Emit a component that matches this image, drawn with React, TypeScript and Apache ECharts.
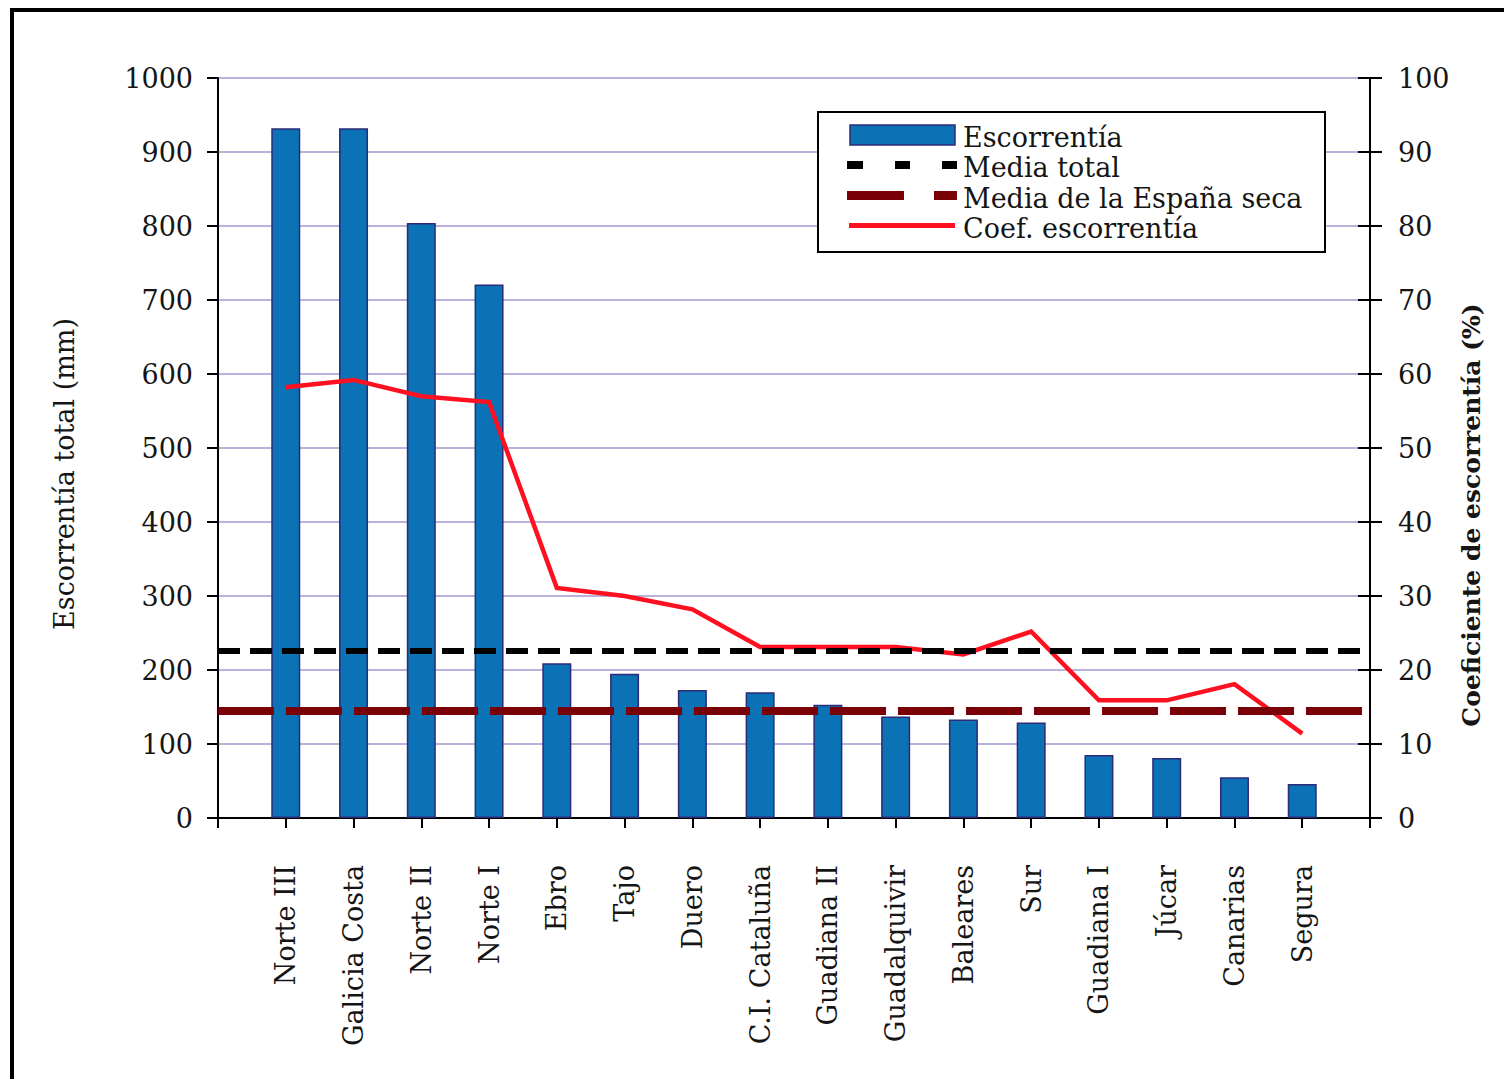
import React, { useEffect, useRef } from 'react';
import * as echarts from 'echarts';

const CATEGORIES = [
  'Norte III', 'Galicia Costa', 'Norte II', 'Norte I', 'Ebro', 'Tajo', 'Duero',
  'C.I. Cataluña', 'Guadiana II', 'Guadalquivir', 'Baleares', 'Sur',
  'Guadiana I', 'Júcar', 'Canarias', 'Segura',
];
const ESCORRENTIA = [932, 932, 804, 721, 209, 195, 173, 170, 153, 137, 133, 129, 85, 81, 55, 46];
const COEF_ESCORRENTIA = [58.2, 59.2, 57.0, 56.2, 31.1, 30.0, 28.2, 23.1, 23.1, 23.1, 22.1, 25.2, 15.9, 15.9, 18.1, 11.4];
const MEDIA_TOTAL = 226;
const MEDIA_ESPANA_SECA = 145;
const LEFT_TICKS = [0, 100, 200, 300, 400, 500, 600, 700, 800, 900, 1000];
const RIGHT_TICKS = [0, 10, 20, 30, 40, 50, 60, 70, 80, 90, 100];
const SERIES_NAMES = ['Escorrentía', 'Media total', 'Media de la España seca', 'Coef. escorrentía'];
const LEFT_TITLE = 'Escorrentía total (mm)';
const RIGHT_TITLE = 'Coeficiente de escorrentía (%)';

const FONT = '"DejaVu Serif", "Liberation Serif", serif';
const TXT = '#151515';
const BAR_COLOR = '#0a72b5';
const BAR_BORDER = '#2d2a78';
const BLACK = '#000';
const DARK_RED = '#7a0008';
const RED = '#ff1020';

export default function App() {
  const ref = useRef<HTMLDivElement>(null);
  useEffect(() => {
    const chart = echarts.init(ref.current!, null, { renderer: 'svg' });
    const axisCats = ['', ...CATEGORIES, ''];
    const barData = [null, ...ESCORRENTIA, null];
    const lineData = [null, ...COEF_ESCORRENTIA, null];
    const axisLineStyle = { color: '#000', width: 2 };
    const textFont = (size: number, weight = 'normal') => ({
      fontFamily: FONT, fontSize: size, fontWeight: weight, fill: TXT,
    });

    const legendX = 818, legendY = 112;
    const legendRows = [137, 167, 198, 228];
    const legendGraphic: any[] = [
      {
        type: 'rect', shape: { x: legendX, y: legendY, width: 507, height: 140 },
        style: { fill: '#fff', stroke: '#000', lineWidth: 2 }, z: 50, silent: true,
      },
      {
        type: 'rect', shape: { x: 850, y: 125, width: 105, height: 20 },
        style: { fill: BAR_COLOR, stroke: BAR_BORDER, lineWidth: 1.5 }, z: 51, silent: true,
      },
      { type: 'rect', shape: { x: 847, y: 161, width: 16, height: 8 }, style: { fill: BLACK }, z: 51, silent: true },
      { type: 'rect', shape: { x: 895, y: 161, width: 15, height: 8 }, style: { fill: BLACK }, z: 51, silent: true },
      { type: 'rect', shape: { x: 942, y: 161, width: 15, height: 8 }, style: { fill: BLACK }, z: 51, silent: true },
      { type: 'rect', shape: { x: 847, y: 191, width: 57, height: 9 }, style: { fill: DARK_RED }, z: 51, silent: true },
      { type: 'rect', shape: { x: 934, y: 191, width: 23, height: 9 }, style: { fill: DARK_RED }, z: 51, silent: true },
      { type: 'rect', shape: { x: 849, y: 223, width: 106, height: 5 }, style: { fill: RED }, z: 51, silent: true },
      ...SERIES_NAMES.map((name, i) => ({
        type: 'text', x: 963, y: legendRows[i], z: 52, silent: true,
        style: { text: name, ...textFont(27), textAlign: 'left', textVerticalAlign: 'middle' },
      })),
    ];

    const option: any = {
      animation: false,
      backgroundColor: '#fff',
      grid: {
        left: 218, right: 134, top: 78, bottom: 261,
        show: true, borderColor: '#000', borderWidth: 2, backgroundColor: 'transparent',
      },
      xAxis: {
        type: 'category', data: axisCats, boundaryGap: false,
        axisLine: { lineStyle: axisLineStyle },
        axisTick: { show: true, length: 10, interval: 0, lineStyle: axisLineStyle },
        axisLabel: { interval: 0, rotate: 90, margin: 47, fontFamily: FONT, fontSize: 27, color: TXT },
        splitLine: { show: false },
      },
      yAxis: [
        {
          type: 'value', position: 'left',
          min: LEFT_TICKS[0], max: LEFT_TICKS[LEFT_TICKS.length - 1], interval: LEFT_TICKS[1] - LEFT_TICKS[0],
          axisLine: { show: true, lineStyle: axisLineStyle },
          axisTick: { show: true, length: 11, lineStyle: axisLineStyle },
          axisLabel: { margin: 25, fontFamily: FONT, fontSize: 27, color: TXT, formatter: (v: number) => String(v) },
          splitLine: { show: true, lineStyle: { color: '#bab2dd', width: 2 } },
        },
        {
          type: 'value', position: 'right',
          min: RIGHT_TICKS[0], max: RIGHT_TICKS[RIGHT_TICKS.length - 1], interval: RIGHT_TICKS[1] - RIGHT_TICKS[0],
          axisLine: { show: true, lineStyle: axisLineStyle },
          axisTick: { show: true, length: 12, lineStyle: axisLineStyle },
          axisLabel: { margin: 28, fontFamily: FONT, fontSize: 27, color: TXT, formatter: (v: number) => String(v) },
          splitLine: { show: false },
        },
        {
          type: 'value', position: 'right',
          min: RIGHT_TICKS[0], max: RIGHT_TICKS[RIGHT_TICKS.length - 1], interval: RIGHT_TICKS[1] - RIGHT_TICKS[0],
          axisLine: { show: false },
          axisTick: { show: true, inside: true, length: 12, lineStyle: axisLineStyle },
          axisLabel: { show: false },
          splitLine: { show: false },
        },
      ],
      series: [
        {
          name: SERIES_NAMES[0], type: 'bar', yAxisIndex: 0, data: barData, barWidth: 29,
          itemStyle: { color: BAR_COLOR, borderColor: BAR_BORDER, borderWidth: 1.5 },
          emphasis: { disabled: true },
        },
        {
          name: SERIES_NAMES[3], type: 'line', yAxisIndex: 1, data: lineData,
          symbol: 'none', connectNulls: false,
          lineStyle: { color: RED, width: 4.5, join: 'miter' },
          itemStyle: { color: RED },
          emphasis: { disabled: true },
          z: 3,
        },
        {
          name: SERIES_NAMES[1], type: 'line', yAxisIndex: 0, data: [], symbol: 'none',
          lineStyle: { color: BLACK, width: 6, type: [22, 10] },
          markLine: {
            silent: true, symbol: ['none', 'none'], label: { show: false },
            lineStyle: { color: BLACK, width: 6, type: [22, 10] },
            emphasis: { disabled: true },
            data: [{ yAxis: MEDIA_TOTAL }],
          },
          z: 4,
        },
        {
          name: SERIES_NAMES[2], type: 'line', yAxisIndex: 0, data: [], symbol: 'none',
          lineStyle: { color: DARK_RED, width: 8, type: [56, 12] },
          markLine: {
            silent: true, symbol: ['none', 'none'], label: { show: false },
            lineStyle: { color: DARK_RED, width: 8, type: [56, 12] },
            emphasis: { disabled: true },
            data: [{ yAxis: MEDIA_ESPANA_SECA }],
          },
          z: 4,
        },
      ],
      graphic: [
        {
          type: 'text', x: 64, y: 474, rotation: Math.PI / 2, silent: true,
          style: { text: LEFT_TITLE, ...textFont(27), textAlign: 'center', textVerticalAlign: 'middle' },
        },
        {
          type: 'text', x: 1471, y: 515, rotation: Math.PI / 2, silent: true,
          style: { text: RIGHT_TITLE, ...textFont(25, 'bold'), textAlign: 'center', textVerticalAlign: 'middle' },
        },
        ...legendGraphic,
        {
          type: 'rect', silent: true, z: 100,
          shape: { x: 12, y: 10, width: 1600, height: 1200 },
          style: { fill: 'none', stroke: '#000', lineWidth: 4 },
        },
      ],
    };
    chart.setOption(option);
    return () => chart.dispose();
  }, []);
  return (
    <div
      ref={ref}
      style={{ position: 'fixed', left: 0, top: 0, width: 1504, height: 1079, background: '#fff' }}
    />
  );
}
